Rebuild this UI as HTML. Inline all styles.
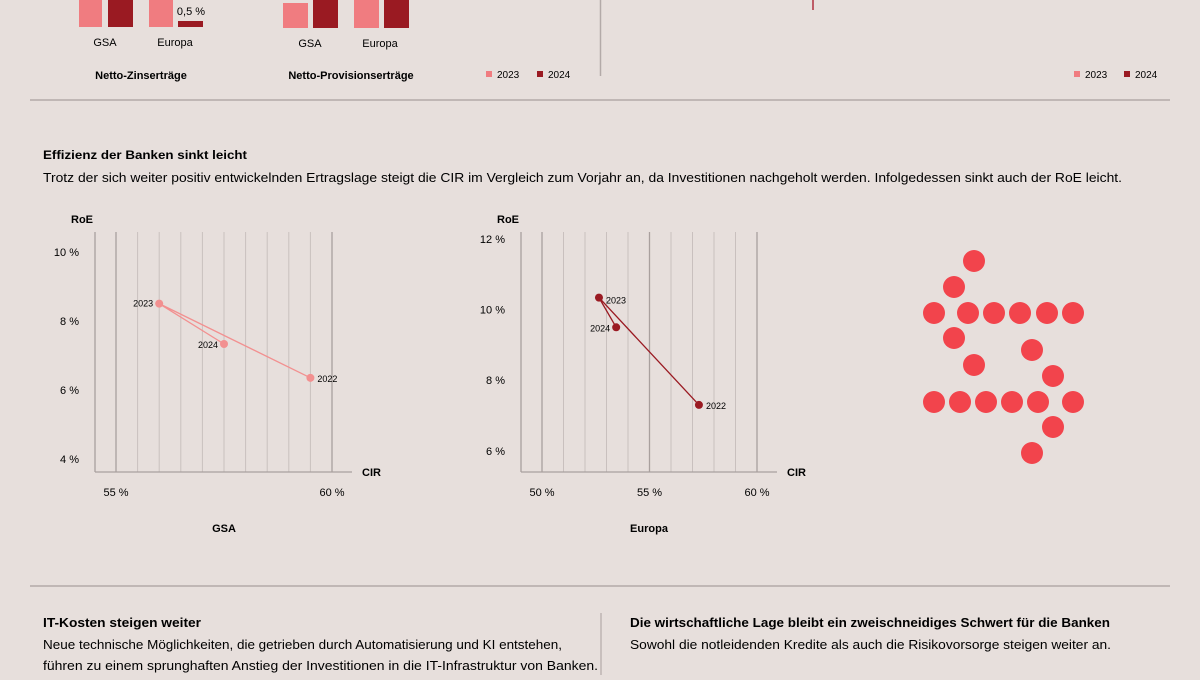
<!DOCTYPE html>
<html><head><meta charset="utf-8"><style>
body{margin:0;width:1200px;height:675px;background:#e7dfdc;overflow:hidden;font-family:"Liberation Sans",sans-serif;color:#222}
svg text{font-family:"Liberation Sans",sans-serif}
</style></head><body>
<svg width="1200" height="675" viewBox="0 0 1200 675">
<g>
<rect x="79" y="0" width="23" height="27" fill="#f07c80"/>
<rect x="108" y="0" width="25" height="27" fill="#9a1a22"/>
<rect x="149" y="0" width="24" height="27" fill="#f07c80"/>
<rect x="178" y="21" width="25" height="6" fill="#9a1a22"/>
<text x="191" y="15" font-size="11" text-anchor="middle">0,5 %</text>
<rect x="283" y="3" width="25" height="25" fill="#f07c80"/>
<rect x="313" y="0" width="25" height="28" fill="#9a1a22"/>
<rect x="354" y="0" width="25" height="28" fill="#f07c80"/>
<rect x="384" y="0" width="25" height="28" fill="#9a1a22"/>
<text x="105" y="46" font-size="11" text-anchor="middle">GSA</text>
<text x="175" y="46" font-size="11" text-anchor="middle">Europa</text>
<text x="310" y="47" font-size="11" text-anchor="middle">GSA</text>
<text x="380" y="47" font-size="11" text-anchor="middle">Europa</text>
<text x="141" y="79" font-size="11" font-weight="bold" text-anchor="middle">Netto-Zinserträge</text>
<text x="351" y="79" font-size="11" font-weight="bold" text-anchor="middle">Netto-Provisionserträge</text>
<g>
<rect x="486" y="71" width="6" height="6" fill="#f07c80"/><text x="497" y="78" font-size="10">2023</text>
<rect x="537" y="71" width="6" height="6" fill="#9a1a22"/><text x="548" y="78" font-size="10">2024</text>
</g>
<line x1="600.5" y1="0" x2="600.5" y2="76" stroke="#b3aaa8" stroke-width="1.5"/>
<line x1="813" y1="0" x2="813" y2="10" stroke="#b03040" stroke-width="1.5"/>
<g>
<rect x="1074" y="71" width="6" height="6" fill="#f07c80"/><text x="1085" y="78" font-size="10">2023</text>
<rect x="1124" y="71" width="6" height="6" fill="#9a1a22"/><text x="1135" y="78" font-size="10">2024</text>
</g>
</g>
<line x1="30" y1="100" x2="1170" y2="100" stroke="#b3aaa8" stroke-width="1.5"/>
<text x="43" y="159" font-size="12" font-weight="bold" textLength="204" lengthAdjust="spacingAndGlyphs">Effizienz der Banken sinkt leicht</text>
<text x="43" y="182" font-size="13" textLength="1079" lengthAdjust="spacingAndGlyphs">Trotz der sich weiter positiv entwickelnden Ertragslage steigt die CIR im Vergleich zum Vorjahr an, da Investitionen nachgeholt werden. Infolgedessen sinkt auch der RoE leicht.</text>
<g id="chartGSA"></g>
<g id="chartEU"></g>
<g id="dots"></g>
<line x1="30" y1="586" x2="1170" y2="586" stroke="#b3aaa8" stroke-width="1.5"/>
<line x1="601" y1="613" x2="601" y2="675" stroke="#b3aaa8" stroke-width="1.2"/>
<text x="43" y="627" font-size="12.5" font-weight="bold" textLength="158" lengthAdjust="spacingAndGlyphs">IT-Kosten steigen weiter</text>
<text x="43" y="649" font-size="12.5" textLength="519" lengthAdjust="spacingAndGlyphs">Neue technische Möglichkeiten, die getrieben durch Automatisierung und KI entstehen,</text>
<text x="43" y="670" font-size="12.5" textLength="555" lengthAdjust="spacingAndGlyphs">führen zu einem sprunghaften Anstieg der Investitionen in die IT-Infrastruktur von Banken.</text>
<text x="630" y="627" font-size="12.5" font-weight="bold" textLength="480" lengthAdjust="spacingAndGlyphs">Die wirtschaftliche Lage bleibt ein zweischneidiges Schwert für die Banken</text>
<text x="630" y="649" font-size="12.5" textLength="481" lengthAdjust="spacingAndGlyphs">Sowohl die notleidenden Kredite als auch die Risikovorsorge steigen weiter an.</text>
</svg>
<script>
const years = ["2022","2023","2024"];
const gsaCIR = [59.5, 56.0, 57.5];
const gsaRoE = [6.35, 8.5, 7.33];
const euCIR = [57.3, 52.65, 53.45];
const euRoE = [7.3, 10.34, 9.5];
const gsaYTicks = [4,6,8,10];
const euYTicks = [6,8,10,12];
const gsaXTicks = [55,60];
const euXTicks = [50,55,60];
const NS="http://www.w3.org/2000/svg";
function mk(p,t,a,txt){const e=document.createElementNS(NS,t);for(const k in a)e.setAttribute(k,a[k]);if(txt!==undefined)e.textContent=txt;p.appendChild(e);return e;}
function chart(g,o){
  const X=v=>o.x0+(v-o.xa)*o.kx, Y=v=>o.y0-(v-o.ya)*o.ky;
  for(let v=o.gx0; v<=o.gx1+1e-6; v+=o.step){
    const major=Math.abs(v-Math.round(v/5)*5)<1e-6;
    const l=mk(g,'line',{x1:X(v),x2:X(v),y1:o.top,y2:o.y0,stroke:major?'#a9a09e':'#c9c0be','stroke-width':major?1.3:1});
    
    
  }
  mk(g,'line',{x1:o.axL,x2:o.axL,y1:o.top,y2:o.y0,stroke:'#a9a09e','stroke-width':1.3});
  mk(g,'line',{x1:o.axL,x2:o.axR,y1:o.y0,y2:o.y0,stroke:'#a9a09e','stroke-width':1.3});
  o.yt.forEach(v=>{const t=mk(g,'text',{x:o.axL-16,y:Y(v)+4,'font-size':11,'text-anchor':'end'},v+' %');
    });
  o.xt.forEach(v=>{const t=mk(g,'text',{x:X(v),y:o.y0+24,'font-size':11,'text-anchor':'middle'},v+' %');
    });
  const yl=mk(g,'text',{x:o.axL-2,y:o.top-9,'font-size':11,'font-weight':'bold','text-anchor':'end'},'RoE');
  
  const xl=mk(g,'text',{x:o.axR+10,y:o.y0+4,'font-size':11,'font-weight':'bold'},'CIR');
  
  const tl=mk(g,'text',{x:o.titleX,y:o.y0+60,'font-size':11,'font-weight':'bold','text-anchor':'middle'},o.title);
  
  const pts=o.cx.map((c,i)=>X(c)+','+Y(o.cy[i])).join(' ');
  const pl=mk(g,'polyline',{points:pts,fill:'none',stroke:o.col,'stroke-width':1.3});
  
  o.cx.forEach((c,i)=>{
    const p=mk(g,'circle',{cx:X(c),cy:Y(o.cy[i]),r:4,fill:o.col});
    
    const left=o.left[i];
    const t=mk(g,'text',{x:X(c)+(left?-6:7),y:Y(o.cy[i])+(o.dy[i]||3),'font-size':9,'text-anchor':left?'end':'start'},years[i]);
    
  });
}
chart(document.getElementById('chartGSA'),{x0:116,xa:55,kx:43.2,y0:472,ya:3.62,ky:34.5,top:232,axL:95,axR:352,gx0:55,gx1:60,step:0.5,yt:gsaYTicks,xt:gsaXTicks,cx:gsaCIR,cy:gsaRoE,col:'#f29090',left:[false,true,true],dy:[4,3,4],title:'GSA',titleX:224});
chart(document.getElementById('chartEU'),{x0:542,xa:50,kx:21.5,y0:472,ya:5.4,ky:35.3,top:232,axL:521,axR:777,gx0:50,gx1:60,step:1,yt:euYTicks,xt:euXTicks,cx:euCIR,cy:euRoE,col:'#9a1a22',left:[false,false,true],dy:[4,6,4],title:'Europa',titleX:649});
const dots=[[974,261],[954,287],[934,313],[968,313],[994,313],[1020,313],[1047,313],[1073,313],[954,338],[1032,350],[974,365],[1053,376],[934,402],[960,402],[986,402],[1012,402],[1038,402],[1073,402],[1053,427],[1032,453]];
const dg=document.getElementById('dots');
dots.forEach(d=>{const c=mk(dg,'circle',{cx:d[0],cy:d[1],r:11,fill:'#f2444c'});
  });
</script>
</body></html>
